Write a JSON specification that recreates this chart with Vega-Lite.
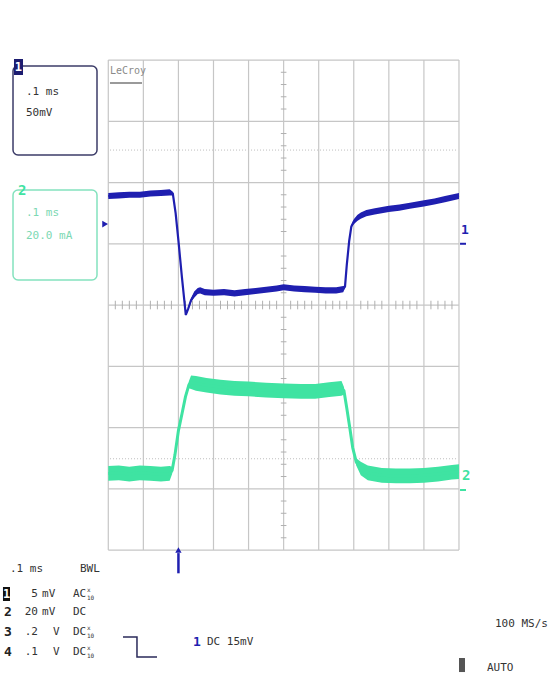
{
  "$schema": "https://vega.github.io/schema/vega-lite/v6.json",
  "width": 555,
  "height": 677,
  "autosize": {"type": "fit", "contains": "padding"},
  "padding": 0,
  "background": "white",
  "config": {"view": {"stroke": null}},
  "datasets": {
    "dots": [{"v": 2.53}, {"v": -2.51}],
    "gx": [{"g": 0}, {"g": 1}, {"g": 2}, {"g": 3}, {"g": 4}, {"g": 5}, {"g": 6}, {"g": 7}, {"g": 8}, {"g": 9}, {"g": 10}],
    "gy": [{"g": -4}, {"g": -3}, {"g": -2}, {"g": -1}, {"g": 0}, {"g": 1}, {"g": 2}, {"g": 3}, {"g": 4}],
    "mty": [{"g": -3.8}, {"g": -3.6}, {"g": -3.4}, {"g": -3.2}, {"g": -2.8}, {"g": -2.6}, {"g": -2.4}, {"g": -2.2}, {"g": -1.8}, {"g": -1.6}, {"g": -1.4}, {"g": -1.2}, {"g": -0.8}, {"g": -0.6}, {"g": -0.4}, {"g": -0.2}, {"g": 0.2}, {"g": 0.4}, {"g": 0.6}, {"g": 0.8}, {"g": 1.2}, {"g": 1.4}, {"g": 1.6}, {"g": 1.8}, {"g": 2.2}, {"g": 2.4}, {"g": 2.6}, {"g": 2.8}, {"g": 3.2}, {"g": 3.4}, {"g": 3.6}, {"g": 3.8}],
    "mtx": [{"g": 0.2}, {"g": 0.4}, {"g": 0.6}, {"g": 0.8}, {"g": 1.2}, {"g": 1.4}, {"g": 1.6}, {"g": 1.8}, {"g": 2.2}, {"g": 2.4}, {"g": 2.6}, {"g": 2.8}, {"g": 3.2}, {"g": 3.4}, {"g": 3.6}, {"g": 3.8}, {"g": 4.2}, {"g": 4.4}, {"g": 4.6}, {"g": 4.8}, {"g": 5.2}, {"g": 5.4}, {"g": 5.6}, {"g": 5.8}, {"g": 6.2}, {"g": 6.4}, {"g": 6.6}, {"g": 6.8}, {"g": 7.2}, {"g": 7.4}, {"g": 7.6}, {"g": 7.8}, {"g": 8.2}, {"g": 8.4}, {"g": 8.6}, {"g": 8.8}, {"g": 9.2}, {"g": 9.4}, {"g": 9.6}, {"g": 9.8}],
    "trace": [
      {"ch": "1", "t": 0, "v": 1.78, "lo": 1.73, "hi": 1.83},
      {"ch": "1", "t": 0.3, "v": 1.79, "lo": 1.74, "hi": 1.84},
      {"ch": "1", "t": 0.6, "v": 1.8, "lo": 1.75, "hi": 1.85},
      {"ch": "1", "t": 0.9, "v": 1.8, "lo": 1.75, "hi": 1.85},
      {"ch": "1", "t": 1.2, "v": 1.82, "lo": 1.77, "hi": 1.87},
      {"ch": "1", "t": 1.5, "v": 1.83, "lo": 1.78, "hi": 1.88},
      {"ch": "1", "t": 1.75, "v": 1.84, "lo": 1.79, "hi": 1.89},
      {"ch": "1", "t": 1.84, "v": 1.82, "lo": 1.79, "hi": 1.85},
      {"ch": "1", "t": 1.92, "v": 1.5, "lo": 1.49, "hi": 1.51},
      {"ch": "1", "t": 2.0, "v": 1.05, "lo": 1.04, "hi": 1.06},
      {"ch": "1", "t": 2.1, "v": 0.45, "lo": 0.44, "hi": 0.46},
      {"ch": "1", "t": 2.21, "v": -0.16, "lo": -0.18, "hi": -0.14},
      {"ch": "1", "t": 2.28, "v": -0.06, "lo": -0.08, "hi": -0.04},
      {"ch": "1", "t": 2.36, "v": 0.08, "lo": 0.05, "hi": 0.11},
      {"ch": "1", "t": 2.45, "v": 0.17, "lo": 0.12, "hi": 0.22},
      {"ch": "1", "t": 2.55, "v": 0.23, "lo": 0.18, "hi": 0.28},
      {"ch": "1", "t": 2.62, "v": 0.24, "lo": 0.19, "hi": 0.29},
      {"ch": "1", "t": 2.75, "v": 0.21, "lo": 0.16, "hi": 0.26},
      {"ch": "1", "t": 3.0, "v": 0.2, "lo": 0.15, "hi": 0.25},
      {"ch": "1", "t": 3.3, "v": 0.21, "lo": 0.16, "hi": 0.26},
      {"ch": "1", "t": 3.6, "v": 0.19, "lo": 0.14, "hi": 0.24},
      {"ch": "1", "t": 3.9, "v": 0.21, "lo": 0.16, "hi": 0.26},
      {"ch": "1", "t": 4.2, "v": 0.23, "lo": 0.18, "hi": 0.28},
      {"ch": "1", "t": 4.5, "v": 0.25, "lo": 0.2, "hi": 0.3},
      {"ch": "1", "t": 4.8, "v": 0.27, "lo": 0.22, "hi": 0.32},
      {"ch": "1", "t": 5.0, "v": 0.29, "lo": 0.24, "hi": 0.34},
      {"ch": "1", "t": 5.3, "v": 0.27, "lo": 0.22, "hi": 0.32},
      {"ch": "1", "t": 5.6, "v": 0.26, "lo": 0.21, "hi": 0.31},
      {"ch": "1", "t": 5.9, "v": 0.25, "lo": 0.2, "hi": 0.3},
      {"ch": "1", "t": 6.2, "v": 0.24, "lo": 0.19, "hi": 0.29},
      {"ch": "1", "t": 6.5, "v": 0.24, "lo": 0.19, "hi": 0.29},
      {"ch": "1", "t": 6.7, "v": 0.26, "lo": 0.21, "hi": 0.31},
      {"ch": "1", "t": 6.75, "v": 0.3, "lo": 0.28, "hi": 0.32},
      {"ch": "1", "t": 6.8, "v": 0.65, "lo": 0.64, "hi": 0.66},
      {"ch": "1", "t": 6.87, "v": 1.05, "lo": 1.04, "hi": 1.06},
      {"ch": "1", "t": 6.93, "v": 1.28, "lo": 1.26, "hi": 1.3},
      {"ch": "1", "t": 7.0, "v": 1.36, "lo": 1.32, "hi": 1.4},
      {"ch": "1", "t": 7.1, "v": 1.42, "lo": 1.37, "hi": 1.47},
      {"ch": "1", "t": 7.2, "v": 1.46, "lo": 1.41, "hi": 1.51},
      {"ch": "1", "t": 7.36, "v": 1.5, "lo": 1.45, "hi": 1.55},
      {"ch": "1", "t": 7.6, "v": 1.53, "lo": 1.48, "hi": 1.58},
      {"ch": "1", "t": 8.0, "v": 1.57, "lo": 1.52, "hi": 1.62},
      {"ch": "1", "t": 8.3, "v": 1.59, "lo": 1.54, "hi": 1.64},
      {"ch": "1", "t": 8.6, "v": 1.62, "lo": 1.57, "hi": 1.67},
      {"ch": "1", "t": 9.0, "v": 1.66, "lo": 1.61, "hi": 1.71},
      {"ch": "1", "t": 9.3, "v": 1.69, "lo": 1.64, "hi": 1.74},
      {"ch": "1", "t": 9.6, "v": 1.73, "lo": 1.68, "hi": 1.78},
      {"ch": "1", "t": 10.0, "v": 1.78, "lo": 1.73, "hi": 1.83},
      {"ch": "2", "t": 0, "v": -2.75, "lo": -2.87, "hi": -2.63},
      {"ch": "2", "t": 0.3, "v": -2.74, "lo": -2.86, "hi": -2.62},
      {"ch": "2", "t": 0.6, "v": -2.76, "lo": -2.88, "hi": -2.64},
      {"ch": "2", "t": 0.9, "v": -2.74, "lo": -2.86, "hi": -2.62},
      {"ch": "2", "t": 1.2, "v": -2.75, "lo": -2.87, "hi": -2.63},
      {"ch": "2", "t": 1.5, "v": -2.76, "lo": -2.88, "hi": -2.64},
      {"ch": "2", "t": 1.75, "v": -2.75, "lo": -2.87, "hi": -2.63},
      {"ch": "2", "t": 1.82, "v": -2.7, "lo": -2.76, "hi": -2.64},
      {"ch": "2", "t": 1.9, "v": -2.45, "lo": -2.47, "hi": -2.43},
      {"ch": "2", "t": 2.0, "v": -2.05, "lo": -2.07, "hi": -2.03},
      {"ch": "2", "t": 2.1, "v": -1.78, "lo": -1.8, "hi": -1.76},
      {"ch": "2", "t": 2.2, "v": -1.5, "lo": -1.53, "hi": -1.47},
      {"ch": "2", "t": 2.3, "v": -1.3, "lo": -1.36, "hi": -1.24},
      {"ch": "2", "t": 2.36, "v": -1.26, "lo": -1.37, "hi": -1.15},
      {"ch": "2", "t": 2.5, "v": -1.28, "lo": -1.4, "hi": -1.16},
      {"ch": "2", "t": 2.8, "v": -1.31, "lo": -1.43, "hi": -1.19},
      {"ch": "2", "t": 3.2, "v": -1.34, "lo": -1.46, "hi": -1.22},
      {"ch": "2", "t": 3.6, "v": -1.36, "lo": -1.48, "hi": -1.24},
      {"ch": "2", "t": 4.0, "v": -1.37, "lo": -1.49, "hi": -1.25},
      {"ch": "2", "t": 4.5, "v": -1.39, "lo": -1.51, "hi": -1.27},
      {"ch": "2", "t": 5.0, "v": -1.4, "lo": -1.52, "hi": -1.28},
      {"ch": "2", "t": 5.5, "v": -1.41, "lo": -1.53, "hi": -1.29},
      {"ch": "2", "t": 5.9, "v": -1.41, "lo": -1.53, "hi": -1.29},
      {"ch": "2", "t": 6.3, "v": -1.38, "lo": -1.5, "hi": -1.26},
      {"ch": "2", "t": 6.65, "v": -1.36, "lo": -1.48, "hi": -1.24},
      {"ch": "2", "t": 6.72, "v": -1.4, "lo": -1.46, "hi": -1.34},
      {"ch": "2", "t": 6.8, "v": -1.68, "lo": -1.7, "hi": -1.66},
      {"ch": "2", "t": 6.88, "v": -1.98, "lo": -2.0, "hi": -1.96},
      {"ch": "2", "t": 6.97, "v": -2.33, "lo": -2.35, "hi": -2.31},
      {"ch": "2", "t": 7.07, "v": -2.56, "lo": -2.62, "hi": -2.5},
      {"ch": "2", "t": 7.2, "v": -2.67, "lo": -2.78, "hi": -2.56},
      {"ch": "2", "t": 7.4, "v": -2.74, "lo": -2.86, "hi": -2.62},
      {"ch": "2", "t": 7.8, "v": -2.78, "lo": -2.9, "hi": -2.66},
      {"ch": "2", "t": 8.2, "v": -2.79, "lo": -2.91, "hi": -2.67},
      {"ch": "2", "t": 8.6, "v": -2.79, "lo": -2.91, "hi": -2.67},
      {"ch": "2", "t": 9.0, "v": -2.78, "lo": -2.9, "hi": -2.66},
      {"ch": "2", "t": 9.4, "v": -2.76, "lo": -2.88, "hi": -2.64},
      {"ch": "2", "t": 9.8, "v": -2.73, "lo": -2.85, "hi": -2.61},
      {"ch": "2", "t": 10.0, "v": -2.72, "lo": -2.84, "hi": -2.6}
    ],
    "boxes": [
      {"b": "1", "x": -2.717, "x2": -0.322, "y": 3.902, "y2": 2.449},
      {"b": "2", "x": -2.717, "x2": -0.322, "y": 1.878, "y2": 0.408}
    ],
    "fills": [
      {"k": "navy", "x": -2.689, "x2": -2.432, "y": 4.016, "y2": 3.755},
      {"k": "black", "x": -3.003, "x2": -2.803, "y": -4.604, "y2": -4.833},
      {"k": "gray", "x": 10.0, "x2": 10.171, "y": -5.763, "y2": -5.992}
    ],
    "trig": [
      {"o": 0, "x": 0.419, "y": -5.42},
      {"o": 1, "x": 0.818, "y": -5.42},
      {"o": 2, "x": 0.818, "y": -5.747},
      {"o": 3, "x": 1.389, "y": -5.747}
    ],
    "marks": [
      {"k": "tri", "x": -0.09, "y": 1.322},
      {"k": "arrow", "x": 2.0, "y": -4.0}
    ],
    "dashes": [
      {"k": "1", "y": 1.0},
      {"k": "2", "y": -3.02}
    ],
    "texts": [
      {"g": "dark", "x": -2.347, "y": 3.478, "text": ".1 ms"},
      {"g": "dark", "x": -2.347, "y": 3.135, "text": "50mV"},
      {"g": "dark", "x": -2.803, "y": -4.31, "text": ".1 ms"},
      {"g": "dark", "x": -0.807, "y": -4.31, "text": "BWL"},
      {"g": "dark", "x": -1.89, "y": -4.718, "text": "mV"},
      {"g": "dark", "x": -1.007, "y": -4.718, "text": "AC"},
      {"g": "dark", "x": -1.89, "y": -5.012, "text": "mV"},
      {"g": "dark", "x": -1.007, "y": -5.012, "text": "DC"},
      {"g": "dark", "x": -1.577, "y": -5.339, "text": "V"},
      {"g": "dark", "x": -1.007, "y": -5.339, "text": "DC"},
      {"g": "dark", "x": -1.577, "y": -5.665, "text": "V"},
      {"g": "dark", "x": -1.007, "y": -5.665, "text": "DC"},
      {"g": "dark", "x": 2.814, "y": -5.502, "text": "DC 15mV"},
      {"g": "dark", "x": 11.027, "y": -5.208, "text": "100 MS/s"},
      {"g": "dark", "x": 10.799, "y": -5.927, "text": "AUTO"},
      {"g": "num", "x": -2.005, "y": -4.718, "text": "5"},
      {"g": "num", "x": -2.005, "y": -5.012, "text": "20"},
      {"g": "num", "x": -2.005, "y": -5.339, "text": ".2"},
      {"g": "num", "x": -2.005, "y": -5.665, "text": ".1"},
      {"g": "ch", "x": -2.974, "y": -5.012, "text": "2"},
      {"g": "ch", "x": -2.974, "y": -5.339, "text": "3"},
      {"g": "ch", "x": -2.974, "y": -5.665, "text": "4"},
      {"g": "tiny", "x": -0.607, "y": -4.653, "text": "x"},
      {"g": "tiny", "x": -0.607, "y": -4.784, "text": "10"},
      {"g": "tiny", "x": -0.607, "y": -5.273, "text": "x"},
      {"g": "tiny", "x": -0.607, "y": -5.404, "text": "10"},
      {"g": "tiny", "x": -0.607, "y": -5.6, "text": "x"},
      {"g": "tiny", "x": -0.607, "y": -5.731, "text": "10"},
      {"g": "white", "x": -2.903, "y": -4.718, "text": "1"},
      {"g": "white", "x": -2.561, "y": 3.886, "text": "1"},
      {"g": "blue", "x": 2.415, "y": -5.502, "text": "1"},
      {"g": "blue", "x": 10.057, "y": 1.224, "text": "1"},
      {"g": "greenbold", "x": -2.575, "y": 1.86, "text": "2"},
      {"g": "greenbold", "x": 10.086, "y": -2.792, "text": "2"},
      {"g": "greenlight", "x": -2.347, "y": 1.502, "text": ".1 ms"},
      {"g": "greenlight", "x": -2.347, "y": 1.127, "text": "20.0 mA"},
      {"g": "logo", "x": 0.048, "y": 3.82, "text": "LeCroy"}
    ]
  },
  "layer": [
    {
      "data": {"name": "dots"},
      "mark": {"type": "rule", "color": "#bdbdbd", "strokeDash": [1, 2], "strokeWidth": 1},
      "encoding": {
        "y": {"field": "v", "type": "quantitative", "scale": {"domain": [-6.073, 4.98], "nice": false, "zero": false}, "axis": null},
        "x": {"datum": 0.05, "type": "quantitative", "scale": {"domain": [-3.088, 12.738], "nice": false, "zero": false}, "axis": null},
        "x2": {"datum": 9.95}
      }
    },
    {
      "data": {"name": "gx"},
      "mark": {"type": "rule", "color": "#c6c6c6", "strokeWidth": 1.2},
      "encoding": {
        "x": {"field": "g", "type": "quantitative", "scale": {"domain": [-3.088, 12.738], "nice": false, "zero": false}, "axis": null},
        "y": {"datum": -4, "type": "quantitative", "scale": {"domain": [-6.073, 4.98], "nice": false, "zero": false}, "axis": null},
        "y2": {"datum": 4}
      }
    },
    {
      "data": {"name": "gy"},
      "mark": {"type": "rule", "color": "#c6c6c6", "strokeWidth": 1.2},
      "encoding": {
        "y": {"field": "g", "type": "quantitative", "scale": {"domain": [-6.073, 4.98], "nice": false, "zero": false}, "axis": null},
        "x": {"datum": 0, "type": "quantitative", "scale": {"domain": [-3.088, 12.738], "nice": false, "zero": false}, "axis": null},
        "x2": {"datum": 10}
      }
    },
    {
      "data": {"name": "mty"},
      "mark": {"type": "rule", "color": "#b0b0b0", "strokeWidth": 1},
      "encoding": {
        "y": {"field": "g", "type": "quantitative", "scale": {"domain": [-6.073, 4.98], "nice": false, "zero": false}, "axis": null},
        "x": {"datum": 4.92, "type": "quantitative", "scale": {"domain": [-3.088, 12.738], "nice": false, "zero": false}, "axis": null},
        "x2": {"datum": 5.08}
      }
    },
    {
      "data": {"name": "mtx"},
      "mark": {"type": "rule", "color": "#b0b0b0", "strokeWidth": 1},
      "encoding": {
        "x": {"field": "g", "type": "quantitative", "scale": {"domain": [-3.088, 12.738], "nice": false, "zero": false}, "axis": null},
        "y": {"datum": -0.07, "type": "quantitative", "scale": {"domain": [-6.073, 4.98], "nice": false, "zero": false}, "axis": null},
        "y2": {"datum": 0.07}
      }
    },
    {
      "data": {"name": "trace"},
      "transform": [{"filter": "datum.ch === '2'"}],
      "mark": {"type": "area", "color": "#3fe3a2", "opacity": 1},
      "encoding": {
        "x": {"field": "t", "type": "quantitative", "scale": {"domain": [-3.088, 12.738], "nice": false, "zero": false}, "axis": null},
        "y": {"field": "lo", "type": "quantitative", "scale": {"domain": [-6.073, 4.98], "nice": false, "zero": false}, "axis": null},
        "y2": {"field": "hi"}
      }
    },
    {
      "data": {"name": "trace"},
      "transform": [{"filter": "datum.ch === '2'"}],
      "mark": {"type": "line", "color": "#3fe3a2", "strokeWidth": 3},
      "encoding": {
        "x": {"field": "t", "type": "quantitative", "scale": {"domain": [-3.088, 12.738], "nice": false, "zero": false}, "axis": null},
        "y": {"field": "v", "type": "quantitative", "scale": {"domain": [-6.073, 4.98], "nice": false, "zero": false}, "axis": null}
      }
    },
    {
      "data": {"name": "trace"},
      "transform": [{"filter": "datum.ch === '1'"}],
      "mark": {"type": "area", "color": "#1f1fb0", "opacity": 1},
      "encoding": {
        "x": {"field": "t", "type": "quantitative", "scale": {"domain": [-3.088, 12.738], "nice": false, "zero": false}, "axis": null},
        "y": {"field": "lo", "type": "quantitative", "scale": {"domain": [-6.073, 4.98], "nice": false, "zero": false}, "axis": null},
        "y2": {"field": "hi"}
      }
    },
    {
      "data": {"name": "trace"},
      "transform": [{"filter": "datum.ch === '1'"}],
      "mark": {"type": "line", "color": "#1f1fb0", "strokeWidth": 2.2},
      "encoding": {
        "x": {"field": "t", "type": "quantitative", "scale": {"domain": [-3.088, 12.738], "nice": false, "zero": false}, "axis": null},
        "y": {"field": "v", "type": "quantitative", "scale": {"domain": [-6.073, 4.98], "nice": false, "zero": false}, "axis": null}
      }
    },
    {
      "data": {"name": "boxes"},
      "mark": {"type": "rect", "fill": null, "fillOpacity": 0, "strokeWidth": 1.5, "cornerRadius": 5},
      "encoding": {
        "x": {"field": "x", "type": "quantitative", "scale": {"domain": [-3.088, 12.738], "nice": false, "zero": false}, "axis": null},
        "x2": {"field": "x2"},
        "y": {"field": "y", "type": "quantitative", "scale": {"domain": [-6.073, 4.98], "nice": false, "zero": false}, "axis": null},
        "y2": {"field": "y2"},
        "stroke": {"field": "b", "type": "nominal", "scale": {"domain": ["1", "2"], "range": ["#3c3c68", "#84e2be"]}, "legend": null}
      }
    },
    {
      "data": {"name": "fills"},
      "mark": {"type": "rect"},
      "encoding": {
        "x": {"field": "x", "type": "quantitative", "scale": {"domain": [-3.088, 12.738], "nice": false, "zero": false}, "axis": null},
        "x2": {"field": "x2"},
        "y": {"field": "y", "type": "quantitative", "scale": {"domain": [-6.073, 4.98], "nice": false, "zero": false}, "axis": null},
        "y2": {"field": "y2"},
        "fill": {"field": "k", "type": "nominal", "scale": {"domain": ["navy", "black", "gray"], "range": ["#1c1c70", "#111111", "#555555"]}, "legend": null}
      }
    },
    {
      "data": {"name": "trig"},
      "mark": {"type": "line", "color": "#2a2a5a", "strokeWidth": 1.5, "interpolate": "linear"},
      "encoding": {
        "x": {"field": "x", "type": "quantitative", "scale": {"domain": [-3.088, 12.738], "nice": false, "zero": false}, "axis": null},
        "y": {"field": "y", "type": "quantitative", "scale": {"domain": [-6.073, 4.98], "nice": false, "zero": false}, "axis": null},
        "order": {"field": "o"}
      }
    },
    {
      "data": {"name": "marks"},
      "transform": [{"filter": "datum.k === 'tri'"}],
      "mark": {"type": "point", "shape": "triangle-right", "filled": true, "color": "#1f1fb0", "size": 45, "opacity": 1},
      "encoding": {
        "x": {"field": "x", "type": "quantitative", "scale": {"domain": [-3.088, 12.738], "nice": false, "zero": false}, "axis": null},
        "y": {"field": "y", "type": "quantitative", "scale": {"domain": [-6.073, 4.98], "nice": false, "zero": false}, "axis": null}
      }
    },
    {
      "data": {"name": "marks"},
      "transform": [{"filter": "datum.k === 'arrow'"}],
      "mark": {"type": "point", "shape": "triangle-up", "filled": true, "color": "#1f1fb0", "size": 40, "opacity": 1},
      "encoding": {
        "x": {"field": "x", "type": "quantitative", "scale": {"domain": [-3.088, 12.738], "nice": false, "zero": false}, "axis": null},
        "y": {"field": "y", "type": "quantitative", "scale": {"domain": [-6.073, 4.98], "nice": false, "zero": false}, "axis": null}
      }
    },
    {
      "data": {"name": "marks"},
      "transform": [{"filter": "datum.k === 'arrow'"}],
      "mark": {"type": "rule", "color": "#1f1fb0", "strokeWidth": 2.5},
      "encoding": {
        "x": {"field": "x", "type": "quantitative", "scale": {"domain": [-3.088, 12.738], "nice": false, "zero": false}, "axis": null},
        "y": {"datum": -4.05, "type": "quantitative", "scale": {"domain": [-6.073, 4.98], "nice": false, "zero": false}, "axis": null},
        "y2": {"datum": -4.38}
      }
    },
    {
      "data": {"name": "dashes"},
      "mark": {"type": "rule", "strokeWidth": 2},
      "encoding": {
        "y": {"field": "y", "type": "quantitative", "scale": {"domain": [-6.073, 4.98], "nice": false, "zero": false}, "axis": null},
        "x": {"datum": 10.03, "type": "quantitative", "scale": {"domain": [-3.088, 12.738], "nice": false, "zero": false}, "axis": null},
        "x2": {"datum": 10.2},
        "color": {"field": "k", "type": "nominal", "scale": {"domain": ["1", "2"], "range": ["#1f1fb0", "#3fe3a2"]}, "legend": null}
      }
    },
    {
      "data": {"name": "marks"},
      "transform": [{"filter": "datum.k === 'tri'"}],
      "mark": {"type": "rule", "color": "#9a9a9a", "strokeWidth": 2},
      "encoding": {
        "x": {"datum": 0.048, "type": "quantitative", "scale": {"domain": [-3.088, 12.738], "nice": false, "zero": false}, "axis": null},
        "x2": {"datum": 0.961},
        "y": {"datum": 3.624, "type": "quantitative", "scale": {"domain": [-6.073, 4.98], "nice": false, "zero": false}, "axis": null}
      }
    },
    {
      "data": {"name": "texts"},
      "transform": [{"filter": "datum.g === 'dark'"}],
      "mark": {"type": "text", "align": "left", "baseline": "middle", "font": "DejaVu Sans Mono", "fontSize": 11, "color": "#333333"},
      "encoding": {
        "x": {"field": "x", "type": "quantitative", "scale": {"domain": [-3.088, 12.738], "nice": false, "zero": false}, "axis": null},
        "y": {"field": "y", "type": "quantitative", "scale": {"domain": [-6.073, 4.98], "nice": false, "zero": false}, "axis": null},
        "text": {"field": "text"}
      }
    },
    {
      "data": {"name": "texts"},
      "transform": [{"filter": "datum.g === 'num'"}],
      "mark": {"type": "text", "align": "right", "baseline": "middle", "font": "DejaVu Sans Mono", "fontSize": 11, "color": "#333333"},
      "encoding": {
        "x": {"field": "x", "type": "quantitative", "scale": {"domain": [-3.088, 12.738], "nice": false, "zero": false}, "axis": null},
        "y": {"field": "y", "type": "quantitative", "scale": {"domain": [-6.073, 4.98], "nice": false, "zero": false}, "axis": null},
        "text": {"field": "text"}
      }
    },
    {
      "data": {"name": "texts"},
      "transform": [{"filter": "datum.g === 'ch'"}],
      "mark": {"type": "text", "align": "left", "baseline": "middle", "font": "DejaVu Sans Mono", "fontSize": 13, "fontWeight": "bold", "color": "#222222"},
      "encoding": {
        "x": {"field": "x", "type": "quantitative", "scale": {"domain": [-3.088, 12.738], "nice": false, "zero": false}, "axis": null},
        "y": {"field": "y", "type": "quantitative", "scale": {"domain": [-6.073, 4.98], "nice": false, "zero": false}, "axis": null},
        "text": {"field": "text"}
      }
    },
    {
      "data": {"name": "texts"},
      "transform": [{"filter": "datum.g === 'tiny'"}],
      "mark": {"type": "text", "align": "left", "baseline": "middle", "font": "DejaVu Sans Mono", "fontSize": 6, "color": "#333333"},
      "encoding": {
        "x": {"field": "x", "type": "quantitative", "scale": {"domain": [-3.088, 12.738], "nice": false, "zero": false}, "axis": null},
        "y": {"field": "y", "type": "quantitative", "scale": {"domain": [-6.073, 4.98], "nice": false, "zero": false}, "axis": null},
        "text": {"field": "text"}
      }
    },
    {
      "data": {"name": "texts"},
      "transform": [{"filter": "datum.g === 'white'"}],
      "mark": {"type": "text", "align": "center", "baseline": "middle", "font": "DejaVu Sans Mono", "fontSize": 12, "fontWeight": "bold", "color": "#ffffff"},
      "encoding": {
        "x": {"field": "x", "type": "quantitative", "scale": {"domain": [-3.088, 12.738], "nice": false, "zero": false}, "axis": null},
        "y": {"field": "y", "type": "quantitative", "scale": {"domain": [-6.073, 4.98], "nice": false, "zero": false}, "axis": null},
        "text": {"field": "text"}
      }
    },
    {
      "data": {"name": "texts"},
      "transform": [{"filter": "datum.g === 'blue'"}],
      "mark": {"type": "text", "align": "left", "baseline": "middle", "font": "DejaVu Sans Mono", "fontSize": 13, "fontWeight": "bold", "color": "#1f1fb0"},
      "encoding": {
        "x": {"field": "x", "type": "quantitative", "scale": {"domain": [-3.088, 12.738], "nice": false, "zero": false}, "axis": null},
        "y": {"field": "y", "type": "quantitative", "scale": {"domain": [-6.073, 4.98], "nice": false, "zero": false}, "axis": null},
        "text": {"field": "text"}
      }
    },
    {
      "data": {"name": "texts"},
      "transform": [{"filter": "datum.g === 'greenbold'"}],
      "mark": {"type": "text", "align": "left", "baseline": "middle", "font": "DejaVu Sans Mono", "fontSize": 14, "fontWeight": "bold", "color": "#3fe3a2"},
      "encoding": {
        "x": {"field": "x", "type": "quantitative", "scale": {"domain": [-3.088, 12.738], "nice": false, "zero": false}, "axis": null},
        "y": {"field": "y", "type": "quantitative", "scale": {"domain": [-6.073, 4.98], "nice": false, "zero": false}, "axis": null},
        "text": {"field": "text"}
      }
    },
    {
      "data": {"name": "texts"},
      "transform": [{"filter": "datum.g === 'greenlight'"}],
      "mark": {"type": "text", "align": "left", "baseline": "middle", "font": "DejaVu Sans Mono", "fontSize": 11, "color": "#7cd8b2"},
      "encoding": {
        "x": {"field": "x", "type": "quantitative", "scale": {"domain": [-3.088, 12.738], "nice": false, "zero": false}, "axis": null},
        "y": {"field": "y", "type": "quantitative", "scale": {"domain": [-6.073, 4.98], "nice": false, "zero": false}, "axis": null},
        "text": {"field": "text"}
      }
    },
    {
      "data": {"name": "texts"},
      "transform": [{"filter": "datum.g === 'logo'"}],
      "mark": {"type": "text", "align": "left", "baseline": "middle", "font": "DejaVu Sans Mono", "fontSize": 10, "color": "#8a8a8a"},
      "encoding": {
        "x": {"field": "x", "type": "quantitative", "scale": {"domain": [-3.088, 12.738], "nice": false, "zero": false}, "axis": null},
        "y": {"field": "y", "type": "quantitative", "scale": {"domain": [-6.073, 4.98], "nice": false, "zero": false}, "axis": null},
        "text": {"field": "text"}
      }
    }
  ]
}
